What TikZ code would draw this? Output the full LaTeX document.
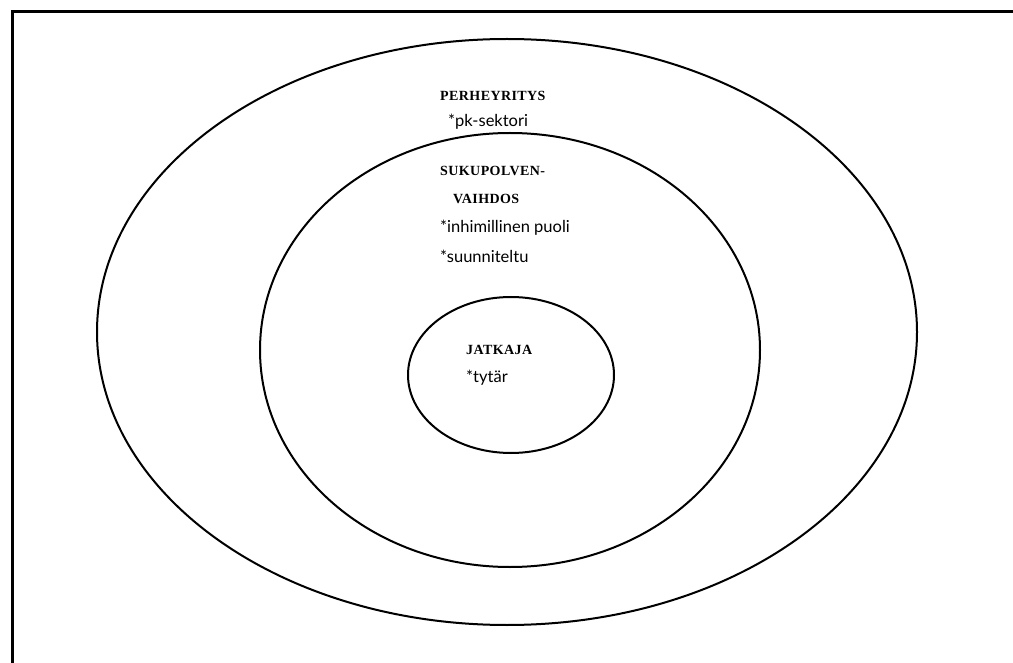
\documentclass[tikz,border=0pt]{standalone}
\usepackage{fontspec}
\setmainfont{Liberation Serif}
\newfontfamily\bodysans{Lato}
\usetikzlibrary{shapes.geometric}
\tikzset{
  ring/.style={draw, ellipse, line width=2pt, inner sep=0pt},
  head/.style={anchor=base west, inner sep=0pt, font=\fontsize{14}{16}\selectfont\bfseries\addfontfeature{LetterSpace=3}},
  item/.style={anchor=base west, inner sep=0pt, font=\bodysans\fontsize{16.5}{19}\selectfont}
}
\begin{document}
\begin{tikzpicture}[x=1pt,y=-1pt]
\useasboundingbox (0,0) rectangle (1013,663);
\draw[line width=3pt] (12,663) -- (12,12) -- (1013,12);
\node[ring, minimum width=820pt, minimum height=586pt] (outer) at (507,332) {};
\node[ring, minimum width=500pt, minimum height=434pt] (middle) at (510,350) {};
\node[ring, minimum width=206pt, minimum height=156pt] (inner) at (511,375) {};
\node[head] (t1) at (440,101) {PERHEYRITYS};
\node[item] (t2) at (448,127) {*pk-sektori};
\node[head] (t3) at (440,176) {SUKUPOLVEN-};
\node[head] (t4) at (453,204) {VAIHDOS};
\node[item] (t5) at (440,233) {*inhimillinen puoli};
\node[item] (t6) at (440,263) {*suunniteltu};
\node[head] (t7) at (466,355) {JATKAJA};
\node[item] (t8) at (466,382) {*tytär};
\end{tikzpicture}
\end{document}
